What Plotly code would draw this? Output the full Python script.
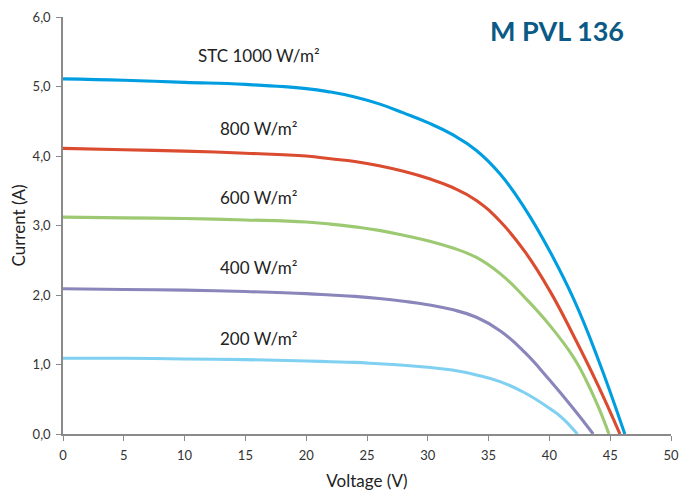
import plotly.graph_objects as go

# Voltage (V) / Current (A) readings for each irradiance level
v_1000 = [0, 5, 10, 15, 20, 22, 24, 26, 28, 30, 32, 34, 36, 38, 40, 42, 44, 46.2]
i_1000 = [5.11, 5.09, 5.06, 5.03, 4.97, 4.92, 4.85, 4.75, 4.62, 4.48, 4.31, 4.08, 3.73, 3.24, 2.64, 1.94, 1.08, 0.0]

v_800 = [0, 5, 10, 15, 20, 22, 24, 26, 28, 30, 32, 34, 36, 38, 40, 42, 44, 45.8]
i_800 = [4.11, 4.09, 4.07, 4.04, 4.00, 3.96, 3.92, 3.86, 3.78, 3.68, 3.55, 3.36, 3.05, 2.62, 2.07, 1.41, 0.70, 0.0]

v_600 = [0, 5, 10, 15, 20, 22, 24, 26, 28, 30, 32, 34, 36, 38, 40, 42, 43, 44, 44.9]
i_600 = [3.12, 3.11, 3.10, 3.08, 3.05, 3.02, 2.98, 2.93, 2.86, 2.78, 2.68, 2.54, 2.30, 1.96, 1.57, 1.10, 0.78, 0.40, 0.0]

v_400 = [0, 5, 10, 15, 20, 22, 24, 26, 28, 30, 32, 34, 36, 38, 40, 42, 43.6]
i_400 = [2.09, 2.08, 2.07, 2.05, 2.02, 2.00, 1.98, 1.95, 1.91, 1.86, 1.79, 1.68, 1.48, 1.17, 0.78, 0.36, 0.0]

v_200 = [0, 5, 10, 15, 20, 22, 24, 26, 28, 30, 32, 34, 36, 38, 40, 41, 42.3]
i_200 = [1.09, 1.09, 1.08, 1.07, 1.05, 1.04, 1.03, 1.01, 0.99, 0.96, 0.92, 0.85, 0.75, 0.59, 0.37, 0.24, 0.0]

series = [
    (v_1000, i_1000, "#009EE0", "STC 1000 W/m²", 5.44),
    (v_800, i_800, "#DA4B2F", "800 W/m²", 4.39),
    (v_600, i_600, "#9DC972", "600 W/m²", 3.40),
    (v_400, i_400, "#8A86BB", "400 W/m²", 2.40),
    (v_200, i_200, "#7FD0F1", "200 W/m²", 1.38),
]

x_ticks = [0, 5, 10, 15, 20, 25, 30, 35, 40, 45, 50]
y_ticks = [0, 1, 2, 3, 4, 5, 6]

fig = go.Figure()
annotations = []
for v, i, color, label, ly in series:
    fig.add_trace(go.Scatter(x=v, y=i, mode="lines",
                             line=dict(color=color, width=3.1, shape="spline", smoothing=1.3),
                             showlegend=False, hoverinfo="skip"))
    annotations.append(dict(x=16.1, y=ly, xref="x", yref="y", text=label,
                            showarrow=False, font=dict(size=17, color="#222222", family="Lato")))

annotations.append(dict(x=0.812, y=1.012, xref="paper", yref="paper", text="<b>M PVL 136</b>",
                        showarrow=False, xanchor="center", yanchor="top",
                        font=dict(size=27, color="#0B5A85", family="Lato")))

fig.update_layout(
    width=680, height=489,
    margin=dict(l=55, r=10, t=9, b=55),
    paper_bgcolor="white", plot_bgcolor="white",
    separators=", ",
    font=dict(family="Lato", color="#333333"),
    annotations=annotations,
    xaxis=dict(range=[0, 50], tickvals=x_ticks, showgrid=False, zeroline=False, automargin=True,
               showline=True, linecolor="#8a8a8a", linewidth=1.5,
               ticks="outside", ticklen=5, tickcolor="#8a8a8a", ticklabelstandoff=4,
               tickfont=dict(size=13, color="#333333"),
               title=dict(text="Voltage (V)", font=dict(size=17, color="#222222"), standoff=13)),
    yaxis=dict(range=[0, 6], tickvals=y_ticks, tickformat=".1f", showgrid=False, zeroline=False,
               automargin=False,
               showline=True, linecolor="#8a8a8a", linewidth=1.5,
               ticks="outside", ticklen=5, tickcolor="#8a8a8a", ticklabelstandoff=3,
               tickfont=dict(size=13, color="#333333"),
               title=dict(text="Current (A)", font=dict(size=17, color="#222222"), standoff=14)),
)

fig.write_html("out.html")
